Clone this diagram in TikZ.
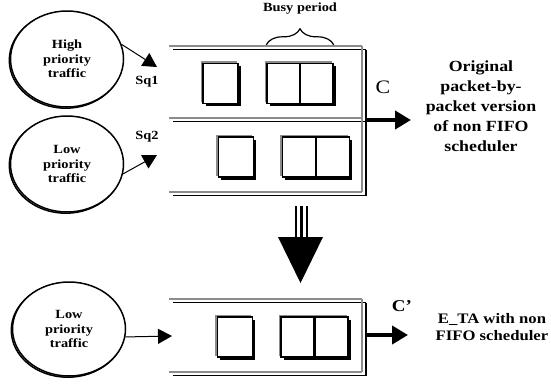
\documentclass[tikz,border=0pt]{standalone}
\usepackage{fontspec}
\setmainfont{Liberation Serif}[FakeStretch=1.15]
\usetikzlibrary{arrows.meta,shapes.geometric,decorations.pathreplacing,positioning}
\tikzset{traffic/.style={ellipse, draw, line width=1.5pt, fill=white,
           minimum width=113pt, minimum height=96pt, inner sep=0pt,
           align=center, font=\fontsize{12.5}{14.7}\selectfont\bfseries},
     pkt/.style={draw, line width=1.4pt, fill=white, minimum height=40pt, inner sep=0pt},
     pkt shade/.style={draw=black!45, line width=1.4pt},
     shade line/.style={draw=black!45, line width=1.6pt},
     edge line/.style={draw=black, line width=1.8pt},
     feed/.style={line width=1pt, -{Triangle[length=14pt,width=15pt]}},
     outflow/.style={line width=4.5pt, -{Triangle[length=16pt,width=18pt]}},
     qlabel/.style={font=\fontsize{12.5}{14}\selectfont\bfseries},
     desc/.style={align=center, font=\fontsize{15.5}{20}\selectfont\bfseries}
     }
\def\QueueLine#1#2{%
  \draw[shade line] (169,#1) -- (#2,#1);
  \draw[edge line] (173,#1+3.5) -- (#2+4,#1+3.5);
}
\def\QueueEdge#1#2{%
  \draw[shade line] (362,#1) -- (362,#2);
  \draw[edge line] (366,#1+3.5) -- (366,#2+4);
}
% name, x, y, width
\def\Packet#1#2#3#4{%
  \fill (#2-#4/2+2.5,#3-20+2.5) rectangle (#2+#4/2+2.5,#3+20+2.5);
  \draw[pkt shade] (#2-#4/2-1.5,#3+20-1.5) |- (#2+#4/2-1.5,#3-20-1.5);
  \node[pkt, minimum width=#4] (#1) at (#2,#3) {};
}
\begin{document}
\begin{tikzpicture}[x=1pt, y=-1pt]
\useasboundingbox (0,0) rectangle (551,384);
% sources
\draw[line width=1.5pt] (65.8,60.2) ellipse [x radius=56.5, y radius=48];
\draw[line width=1.5pt] (65.8,165.2) ellipse [x radius=56.5, y radius=48];
\draw[line width=1.5pt] (67.8,330.2) ellipse [x radius=56.5, y radius=47];
\node[traffic] (high) at (67,59) {High\\priority\\traffic};
\node[traffic] (low) at (67,164) {Low\\priority\\traffic};
\node[traffic, minimum height=94pt] (lowE) at (69,329) {Low\\priority\\traffic};

% original scheduler, two sub-queues
\QueueLine{46}{362}
\QueueLine{118}{362}
\QueueLine{192}{362}
\QueueEdge{46}{192}
\Packet{p11}{220.5}{83.5}{35}
\Packet{p12}{300}{83.5}{66}
\draw[line width=2.2pt] (p12.north) -- (p12.south);
\Packet{p21}{236}{157}{35}
\Packet{p22}{316}{157}{67}
\draw[line width=2.2pt] (p22.north) -- (p22.south);
\draw[decorate, decoration={brace, amplitude=16pt, aspect=0.5}, line width=1.2pt]
  ([yshift=18pt]p12.north west) -- ([yshift=18pt]p12.north east);
\node[qlabel] (busy) at (300,9) {Busy period};

\coordinate (sq1) at (157,67);
\coordinate (sq2) at (157,155);
\draw[feed] (high.15) -- (sq1);
\draw[feed] (low.-10) -- (sq2);
\node[qlabel] (sq1lab) at (147,82) {Sq1};
\node[qlabel] (sq2lab) at (147,137) {Sq2};

\coordinate (qout) at (366,120);
\coordinate (cout) at (411,120);
\draw[outflow] (qout) -- (cout);
\node[font=\fontsize{19}{19}\selectfont] (cap) at (383,87) {C};
\node[desc] (orig) at (481,106) {Original\\packet-by-\\packet version\\of non FIFO\\scheduler};

% transformation
\fill (278,237) -- (323,237) -- (300.5,283) -- cycle;
\foreach \x in {296,301.5,307}
  \draw[line width=2.6pt] (\x,206) -- (\x,238);

% E_TA, one queue
\QueueLine{299}{362}
\QueueLine{372}{362}
\QueueEdge{299}{372}
\Packet{p31}{235}{337}{35}
\Packet{p32}{314.5}{337}{67}
\draw[line width=2.2pt] (p32.north) -- (p32.south);

\coordinate (sq) at (172,336);
\draw[feed] (lowE.-8) -- (sq);
\coordinate (qoutE) at (366,335);
\coordinate (coutE) at (408,335);
\draw[outflow] (qoutE) -- (coutE);
\node[font=\fontsize{16.5}{16}\selectfont\bfseries] (capE) at (402,306) {C'};
\node[desc, font=\fontsize{14.5}{17}\selectfont\bfseries] (eta) at (492,327) {E\_TA with non\\FIFO scheduler};
\end{tikzpicture}
\end{document}
